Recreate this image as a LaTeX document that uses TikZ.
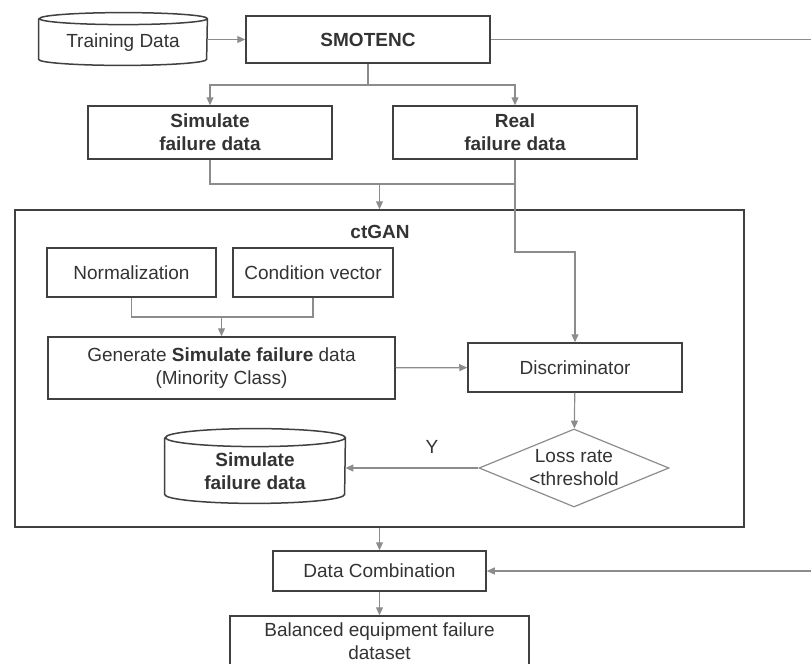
\documentclass[tikz,border=0pt]{standalone}
\usepackage{amsmath}
\usepackage{fontspec}
\setmainfont{Liberation Sans}
\usepackage{pgf, tikz}
\usepackage{xcolor}
\usetikzlibrary{arrows.meta,shapes.geometric}

\definecolor{boxgray}{HTML}{404040}
\definecolor{linegray}{HTML}{8C8C8C}
\definecolor{textgray}{HTML}{333333}

\begin{document}
\begin{tikzpicture}[
            x = 0.5pt, y = -0.5pt, % one unit is one pixel of the sketch
            > = {Triangle[length=4pt,width=3.5pt]}, % arrow head style
            font = \fontsize{9.5}{11.5}\selectfont,
            text = textgray,
            box/.style = {shape=rectangle, draw=boxgray, line width=0.75pt, align=center, inner sep=0pt},
            store/.style = {shape=rectangle, align=center, inner sep=0pt}, % outline drawn below
            test/.style = {shape=diamond, draw=linegray, line width=0.6pt, aspect=2.4, inner sep=0pt, align=center},
            link/.style = {draw=linegray, line width=0.6pt}
        ]
\useasboundingbox (0,0) rectangle (811,664);

\node[store, minimum width=84pt, minimum height=26pt] (train) at (123,43) {Training Data};
\node[box, minimum width=122pt, minimum height=23.5pt] (smote) at (368,39.5) {\textbf{SMOTENC}};
\node[box, minimum width=122pt, minimum height=26.5pt] (sim) at (210,132.5) {\textbf{Simulate}\\\textbf{failure data}};
\node[box, minimum width=122pt, minimum height=26.5pt] (real) at (515,132.5) {\textbf{Real}\\\textbf{failure data}};

% ctGAN block
\node[shape=rectangle, draw=boxgray, line width=0.75pt, minimum width=364.5pt, minimum height=158.5pt] (gan) at (379.5,368.5) {};
\node (ganlabel) at (380,232) {\textbf{ctGAN}};
\node[box, minimum width=84.5pt, minimum height=24.5pt] (norm) at (131.5,272.5) {Normalization};
\node[box, minimum width=80pt, minimum height=24.5pt] (cond) at (313,272.5) {Condition vector};
\node[box, minimum width=173.5pt, minimum height=31pt] (gen) at (221.5,368) {Generate \textbf{Simulate failure} data\\(Minority Class)};
\node[box, minimum width=107pt, minimum height=24.5pt] (disc) at (575,367.5) {Discriminator};
\node[test, minimum width=95pt, minimum height=39pt] (loss) at (574,468) {Loss rate\\<threshold};
\node[store, minimum width=90pt, minimum height=37pt] (sink) at (255,471) {\textbf{Simulate}\\\textbf{failure data}};

\node[box, minimum width=106.5pt, minimum height=20pt] (comb) at (379.5,571) {Data Combination};
\node[box, minimum width=149.5pt, minimum height=25pt] (bal) at (379.5,641) {Balanced equipment failure\\dataset};

% cylinders, drawn a little above their text
\foreach \c/\rx/\ry/\dy in {train/42pt/3pt/2pt, sink/45pt/4.5pt/2.5pt}
  \draw[boxgray, line width=0.75pt] ([yshift=\dy-\ry]\c.north west) -- ([yshift=\dy+\ry]\c.south west)
     arc[start angle=180, end angle=360, x radius=\rx, y radius=\ry]
     -- ([yshift=\dy-\ry]\c.north east)
     arc[start angle=0, end angle=360, x radius=\rx, y radius=\ry];

\coordinate (split) at (368,85);
\coordinate (merge) at (379.5,184);
\coordinate (bend) at (515,252);
\coordinate (join) at (221.5,317);
\coordinate (far) at (815,39.5); % just past the right edge

\draw [->, link] (train.east |- smote) -- (smote);
\draw [link] (smote) -- (split);
\draw [->, link] (split) -| (sim);
\draw [->, link] (split) -| (real);
\draw [link] (sim) |- (real.south |- merge);
\draw [->, link] (merge) -- (merge |- gan.north);
\draw [->, link] (real) -- (bend) -| (disc);
\draw [link] (norm) |- (join) -| (cond);
\draw [->, link] (join) -- (gen);
\draw [->, link] (gen) -- (disc);
\draw [->, link] (disc) -- (loss);
\draw [->, link] (loss) -- node[pos=0.35, yshift=10.5pt] (yes) {Y} (sink.east |- loss);
\draw [->, link] (gan.south -| comb) -- (comb);
\draw [->, link] (comb) -- (bal);
\draw [->, link] (smote) -- (far) |- (comb);

\end{tikzpicture}
\end{document}
